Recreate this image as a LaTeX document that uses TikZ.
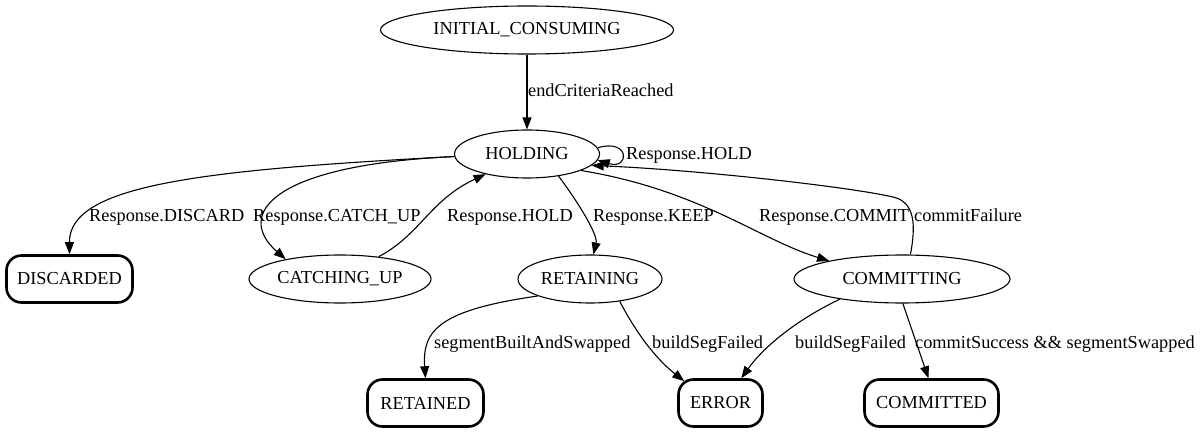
\documentclass[tikz,border=0pt]{standalone}
\usepackage{fontspec}
\setmainfont{Liberation Serif}
\usetikzlibrary{shapes.geometric,arrows.meta,calc}
\begin{document}
\begin{tikzpicture}[x=1pt,y=-1pt,
  every node/.style={font=\fontsize{18.3}{21}\selectfont},
  st/.style={ellipse,draw,line width=1.1pt,minimum height=48pt,inner sep=0pt},
  fin/.style={rectangle,draw,rounded corners=15pt,line width=2.6pt,minimum height=47pt,inner sep=0pt},
  e/.style={draw,line width=1.1pt,-{Triangle[length=12pt,width=9pt]}},
  lbl/.style={anchor=base west,inner sep=0pt}]
\path[use as bounding box] (0,0) rectangle (1201,435);
\node[st,minimum width=293pt] (init) at (527,30) {INITIAL\_CONSUMING};
\node[st,minimum width=145pt] (hold) at (527,154) {HOLDING};
\node[fin,minimum width=126pt] (disc) at (69.5,279) {DISCARDED};
\node[st,minimum width=182pt] (catch) at (340,279) {CATCHING\_UP};
\node[st,minimum width=144pt] (ret) at (590,279) {RETAINING};
\node[st,minimum width=216pt] (comm) at (902,279) {COMMITTING};
\node[fin,minimum width=116pt] (rtd) at (425.5,403) {RETAINED};
\node[fin,minimum width=84pt] (err) at (720.5,403) {ERROR};
\node[fin,minimum width=134pt] (cmtd) at (931.5,403) {COMMITTED};
% edges
\draw[e] (init) -- (hold);
\draw[e] (hold.5) .. controls (630,138) and (630,170) .. (hold.-5);
\draw[e] (hold.182) .. controls (200,170) and (69,185) .. (disc.north);
\draw[e] (hold.182) .. controls (270,165) and (235,215) .. (catch.160);
\draw[e] (catch.30) .. controls (420,235) and (430,200) .. (hold.206);
\draw[e] (hold.-35) .. controls (580,205) and (598,235) .. (ret.82);
\draw[e] (hold.-17) .. controls (700,190) and (760,240) .. (comm.166);
\draw[e] (comm.71) .. controls (916,225) and (915,202) .. (893,197) .. controls (850,187) and (700,170) .. (hold.-10);
\draw[e] (ret.198) .. controls (440,310) and (422,330) .. (rtd.north);
\draw[e] (ret.-37) .. controls (640,340) and (660,362) .. ($(err.north west)+(7,3)$);
\draw[e] (comm.198) .. controls (800,318) and (765,345) .. (err.50);
\draw[e] (comm.-88) -- (cmtd.97);
% labels
\node[lbl] (l1) at (528,97) {endCriteriaReached};
\node[lbl] (l2) at (626,160) {Response.HOLD};
\node[lbl] (l3) at (89,222) {Response.DISCARD};
\node[lbl] (l4) at (253,222) {Response.CATCH\_UP};
\node[lbl] (l5) at (447,222) {Response.HOLD};
\node[lbl] (l6) at (593,222) {Response.KEEP};
\node[lbl] (l7) at (759,222) {Response.COMMIT};
\node[lbl] (l8) at (914,222) {commitFailure};
\node[lbl] (l9) at (434,348) {segmentBuiltAndSwapped};
\node[lbl] (l10) at (652,348) {buildSegFailed};
\node[lbl] (l11) at (795,348) {buildSegFailed};
\node[lbl] (l12) at (915,348) {commitSuccess \&\& segmentSwapped};
\end{tikzpicture}
\end{document}
